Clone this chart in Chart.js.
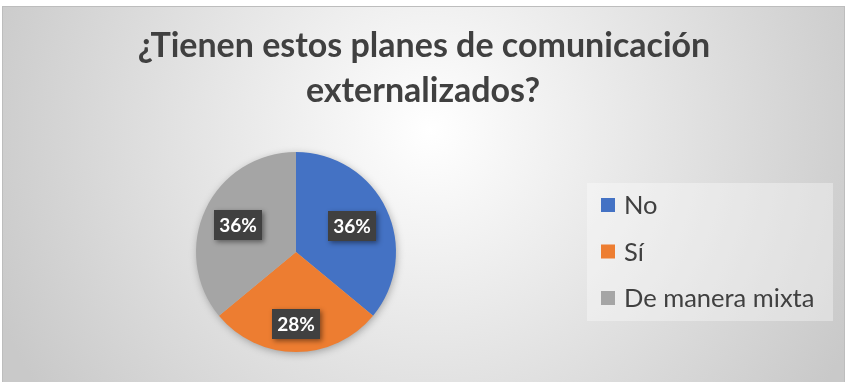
<!DOCTYPE html>
<html>
<head>
<meta charset="utf-8">
<script src="https://cdn.jsdelivr.net/npm/chart.js@4.4.0/dist/chart.umd.min.js"></script>
<style>
  html, body { margin: 0; padding: 0; background: #fff; }
  #wrap { width: 852px; height: 382px; position: relative; }
</style>
</head>
<body>
<div id="wrap"><canvas id="c"></canvas></div>
<script>
"use strict";

const titleLines = ['¿Tienen estos planes de comunicación', 'externalizados?']
const categories = ['No', 'Sí', 'De manera mixta']
const percentages = [36, 28, 36]
const sliceColors = ['#4472C4', '#ED7D31', '#A5A5A5']

// fondo con degradado radial, como el estilo de Excel
const backgroundPlugin = {
    id: 'fondo',
    beforeDraw(chart) {
        const ctx = chart.ctx
        ctx.save()
        ctx.fillStyle = '#ffffff'
        ctx.fillRect(0, 0, chart.width, chart.height)
        const g = ctx.createRadialGradient(430, 130, 0, 430, 130, 470)
        g.addColorStop(0, '#ffffff')
        g.addColorStop(0.35, '#ececec')
        g.addColorStop(1, '#c9c9c9')
        ctx.fillStyle = g
        ctx.fillRect(2, 6, 843, 376)
        ctx.strokeStyle = '#bdbdbd'
        ctx.lineWidth = 1
        ctx.strokeRect(2.5, 6.5, 842, 380)
        ctx.restore()
    },
    // sombra suave debajo del pastel
    beforeDatasetsDraw(chart) {
        const arc = chart.getDatasetMeta(0).data[0]
        if (!arc) return
        const ctx = chart.ctx
        ctx.save()
        ctx.shadowColor = 'rgba(0,0,0,0.35)'
        ctx.shadowBlur = 9
        ctx.shadowOffsetX = 1
        ctx.shadowOffsetY = 2
        ctx.fillStyle = '#bbbbbb'
        ctx.beginPath()
        ctx.arc(arc.x, arc.y, arc.outerRadius - 1, 0, Math.PI * 2)
        ctx.fill()
        ctx.restore()
    }
}

// titulo, etiquetas de datos y leyenda
const overlayPlugin = {
    id: 'extras',
    afterDraw(chart) {
        const ctx = chart.ctx
        ctx.save()

        // titulo
        ctx.fillStyle = '#404040'
        ctx.font = 'bold 34px Lato'
        ctx.textAlign = 'center'
        ctx.textBaseline = 'alphabetic'
        ctx.fillText(titleLines[0], 424, 57)
        ctx.fillText(titleLines[1], 423, 102)

        // etiquetas
        const meta = chart.getDatasetMeta(0)
        const radFactor = [0.62, 0.72, 0.64]
        meta.data.forEach((arc, i) => {
            const mid = (arc.startAngle + arc.endAngle) / 2
            const x = arc.x + Math.cos(mid) * arc.outerRadius * radFactor[i]
            const y = arc.y + Math.sin(mid) * arc.outerRadius * radFactor[i]
            const txt = percentages[i] + '%'
            ctx.font = 'bold 19px Lato'
            const w = ctx.measureText(txt).width + 10
            const h = 30
            ctx.save()
            ctx.shadowColor = 'rgba(0,0,0,0.45)'
            ctx.shadowBlur = 5
            ctx.shadowOffsetX = 2
            ctx.shadowOffsetY = 2
            ctx.fillStyle = '#404040'
            ctx.fillRect(Math.round(x - w / 2), Math.round(y - h / 2), Math.round(w), h)
            ctx.restore()
            ctx.fillStyle = '#ffffff'
            ctx.textAlign = 'center'
            ctx.textBaseline = 'middle'
            ctx.fillText(txt, x, y + 1)
        })

        // leyenda
        ctx.fillStyle = 'rgba(255,255,255,0.35)'
        ctx.fillRect(587, 183, 246, 138)
        ctx.font = '25.5px Lato'
        ctx.textAlign = 'left'
        ctx.textBaseline = 'middle'
        categories.forEach((lab, i) => {
            const cy = 205 + i * 46.5
            ctx.fillStyle = sliceColors[i]
            ctx.fillRect(601, cy - 7, 14, 14)
            ctx.fillStyle = '#404040'
            ctx.fillText(lab, 624, cy + 1)
        })
        ctx.restore()
    }
}

new Chart(document.getElementById('c'), {
    type: 'pie',
    data: {
        labels: categories,
        datasets: [{
            data: percentages,
            backgroundColor: sliceColors,
            borderWidth: 0
        }]
    },
    options: {
        responsive: true,
        maintainAspectRatio: false,
        animation: false,
        layout: {
            padding: { left: 196, right: 456, top: 152, bottom: 30 }
        },
        plugins: {
            legend: { display: false },
            title: { display: false },
            tooltip: { enabled: false }
        }
    },
    plugins: [backgroundPlugin, overlayPlugin]
})
</script>
</body>
</html>
